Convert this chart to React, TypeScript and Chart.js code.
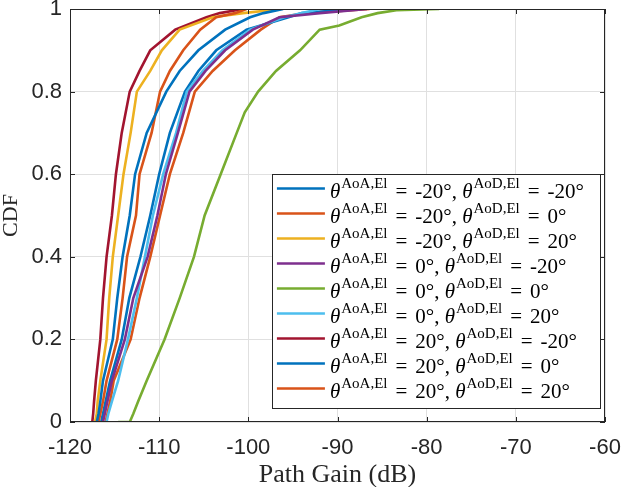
import React, { useEffect, useRef } from "react";
import Chart from "chart.js/auto";

// CDF levels shared by most curves, path gain in dB
const CDF_LEVELS = [0, 0.02, 0.05, 0.1, 0.2, 0.3, 0.4, 0.5, 0.6, 0.7, 0.8, 0.85, 0.9, 0.95, 0.98, 0.99, 1];

const gainM20M20 = [-117.0, -116.8, -116.6, -116.3, -115.2, -114.7, -114.1, -113.3, -112.7, -111.4, -109.2, -107.7, -105.6, -102.6, -99.8, -98.3, -96.1];
const gainM20Z0 = [-116.8, -116.6, -116.3, -115.9, -114.7, -114.1, -113.6, -112.6, -112.2, -110.85, -109.9, -108.8, -107.3, -105.4, -103.6, -101.5, -100.2];
const gainM20P20 = [-117.2, -117.0, -116.9, -116.6, -115.9, -115.6, -115.2, -114.6, -114.0, -113.2, -112.5, -111.0, -109.7, -107.7, -104.0, -100.6, -96.3];
const gainZ0M20 = [-116.3, -116.1, -115.8, -115.3, -113.85, -112.9, -111.3, -110.2, -109.25, -107.9, -106.6, -104.8, -102.6, -99.5, -96.5, -92.0, -86.7];
const gainZ0P20 = [-115.9, -115.7, -115.3, -114.6, -113.5, -112.5, -111.6, -110.7, -109.55, -108.1, -106.9, -105.1, -102.9, -99.8, -96.0, -94.0, -92.0];
const gainP20M20 = [-117.5, -117.4, -117.3, -117.1, -116.6, -116.3, -115.9, -115.3, -114.85, -114.2, -113.3, -112.2, -111.0, -108.2, -104.7, -103.2, -100.6];
const gainP20Z0 = [-116.5, -116.3, -116.0, -115.5, -114.2, -113.35, -112.1, -111.0, -110.0, -108.8, -107.1, -105.6, -103.6, -100.2, -95.5, -94.0, -88.0];
const gainP20P20 = [-116.0, -115.8, -115.5, -115.1, -113.2, -112.2, -111.0, -109.9, -108.8, -107.3, -106.0, -104.0, -101.5, -98.6, -96.5, -93.5, -86.4];

// the 0/0 curve has its own levels (flat start at zero)
const GREEN_LEVELS = [0, 0, 0.02, 0.05, 0.1, 0.2, 0.3, 0.4, 0.5, 0.6, 0.7, 0.75, 0.8, 0.85, 0.9, 0.95, 0.96, 0.98, 0.99, 0.997, 1];
const gainZ0Z0 = [-114.6, -113.3, -112.9, -112.35, -111.4, -109.4, -107.7, -106.1, -104.9, -103.1, -101.3, -100.4, -98.9, -96.9, -94.2, -92.0, -89.8, -87.3, -85.5, -83.4, -78.6];

const AOA = ["-20", "-20", "-20", "0", "0", "0", "20", "20", "20"];
const AOD = ["-20", "0", "20", "-20", "0", "20", "-20", "0", "20"];
const COLORS = ["#0072BD", "#D95319", "#EDB120", "#7E2F8E", "#77AC30", "#4DBEEE", "#A2142F", "#0072BD", "#D95319"];

const X_TICKS = [-120, -110, -100, -90, -80, -70, -60];
const Y_TICKS = [0, 0.2, 0.4, 0.6, 0.8, 1];

const AXIS_COLOR = "#262626";
const GRID_COLOR = "#e0e0e0";
const SERIF = "'Liberation Serif', 'DejaVu Serif', serif";
const SANS = "'Liberation Sans', Arial, sans-serif";

const series = [
  { x: gainM20M20, p: CDF_LEVELS },
  { x: gainM20Z0, p: CDF_LEVELS },
  { x: gainM20P20, p: CDF_LEVELS },
  { x: gainZ0M20, p: CDF_LEVELS },
  { x: gainZ0Z0, p: GREEN_LEVELS },
  { x: gainZ0P20, p: CDF_LEVELS },
  { x: gainP20M20, p: CDF_LEVELS },
  { x: gainP20Z0, p: CDF_LEVELS },
  { x: gainP20P20, p: CDF_LEVELS },
];

const framePlugin = {
  id: "matlabFrame",
  afterDraw(chart: any) {
    const { ctx, chartArea: a, scales } = chart;
    ctx.save();
    ctx.strokeStyle = AXIS_COLOR;
    ctx.lineWidth = 1;
    ctx.strokeRect(a.left + 0.5, a.top + 0.5, a.width - 1, a.height - 1);
    const tl = 5;
    ctx.beginPath();
    X_TICKS.forEach((v) => {
      const px = Math.round(scales.x.getPixelForValue(v)) + 0.5;
      ctx.moveTo(px, a.bottom);
      ctx.lineTo(px, a.bottom - tl);
      ctx.moveTo(px, a.top);
      ctx.lineTo(px, a.top + tl);
    });
    Y_TICKS.forEach((v) => {
      const py = Math.round(scales.y.getPixelForValue(v)) + 0.5;
      ctx.moveTo(a.left, py);
      ctx.lineTo(a.left + tl, py);
      ctx.moveTo(a.right, py);
      ctx.lineTo(a.right - tl, py);
    });
    ctx.stroke();
    ctx.restore();
  },
};

const legendPlugin = {
  id: "thetaLegend",
  afterDraw(chart: any) {
    const { ctx, chartArea: a } = chart;
    const mainFont = `21px ${SERIF}`;
    const thetaFont = `italic 21px ${SERIF}`;
    const supFont = `15px ${SERIF}`;
    const rowH = 25;
    const lineLen = 48;
    const eqGap = 8;

    const rows = AOA.map((aoa, i) => [
      { t: "θ", f: thetaFont, dy: 0, g: 1 },
      { t: "AoA,El", f: supFont, dy: -10, g: eqGap },
      { t: "=", f: mainFont, dy: 0, g: eqGap },
      { t: `${aoa}°, `, f: mainFont, dy: 0, g: 0 },
      { t: "θ", f: thetaFont, dy: 0, g: 1 },
      { t: "AoD,El", f: supFont, dy: -10, g: eqGap },
      { t: "=", f: mainFont, dy: 0, g: eqGap },
      { t: `${AOD[i]}°`, f: mainFont, dy: 0, g: 0 },
    ]);

    ctx.save();
    const widths = rows.map((segs) =>
      segs.reduce((w, s) => {
        ctx.font = s.f;
        return w + ctx.measureText(s.t).width + s.g;
      }, 0)
    );
    const maxW = Math.max(...widths);
    const boxW = 5 + lineLen + 5 + maxW + 16;
    const boxH = rows.length * rowH + 9;
    const right = a.right - 5;
    const bottom = a.bottom - 14;
    const left = right - boxW;
    const top = bottom - boxH;

    ctx.fillStyle = "#ffffff";
    ctx.fillRect(left, top, boxW, boxH);
    ctx.strokeStyle = AXIS_COLOR;
    ctx.lineWidth = 1;
    ctx.strokeRect(Math.round(left) + 0.5, Math.round(top) + 0.5, Math.round(boxW), Math.round(boxH));

    rows.forEach((segs, i) => {
      const cy = top + 14.5 + i * rowH;
      ctx.strokeStyle = COLORS[i];
      ctx.lineWidth = 2.6;
      ctx.beginPath();
      ctx.moveTo(left + 5, cy);
      ctx.lineTo(left + 5 + lineLen, cy);
      ctx.stroke();

      let x = left + 5 + lineLen + 5;
      const base = cy + 9.5;
      ctx.fillStyle = "#000000";
      ctx.textBaseline = "alphabetic";
      ctx.textAlign = "left";
      segs.forEach((s) => {
        ctx.font = s.f;
        ctx.fillText(s.t, x, base + s.dy);
        x += ctx.measureText(s.t).width + s.g;
      });
    });
    ctx.restore();
  },
};

export default function App() {
  const canvasRef = useRef<HTMLCanvasElement | null>(null);

  useEffect(() => {
    document.body.style.margin = "0";
    const el = canvasRef.current;
    if (!el) return;

    const chart = new Chart(el, {
      type: "line",
      data: {
        datasets: series.map((s, i) => ({
          label: `AoA ${AOA[i]}, AoD ${AOD[i]}`,
          data: s.x.map((g, k) => ({ x: g, y: s.p[k] })),
          borderColor: COLORS[i],
          backgroundColor: COLORS[i],
          borderWidth: 2.6,
          pointRadius: 0,
          tension: 0,
          fill: false,
        })),
      },
      options: {
        animation: false,
        responsive: true,
        maintainAspectRatio: false,
        layout: { padding: { top: 9, right: 18, left: 0, bottom: 0 } },
        plugins: { legend: { display: false }, tooltip: { enabled: false } },
        scales: {
          x: {
            type: "linear",
            min: -120,
            max: -60,
            afterFit: (scale: any) => {
              scale.height = 65;
              scale.paddingLeft = 0;
              scale.paddingRight = 0;
            },
            afterBuildTicks: (scale: any) => {
              scale.ticks = X_TICKS.map((v) => ({ value: v }));
            },
            border: { display: false },
            grid: { color: GRID_COLOR, drawTicks: false },
            ticks: {
              color: AXIS_COLOR,
              font: { family: SANS, size: 22 },
              padding: 13,
              maxRotation: 0,
            },
            title: {
              display: true,
              text: "Path Gain (dB)",
              color: AXIS_COLOR,
              font: { family: SERIF, size: 26, lineHeight: 0.9 },
              padding: { top: 0, bottom: 0 },
            },
          },
          y: {
            type: "linear",
            min: 0,
            max: 1,
            afterFit: (scale: any) => {
              scale.width = 70;
              scale.paddingTop = 0;
              scale.paddingBottom = 0;
            },
            afterBuildTicks: (scale: any) => {
              scale.ticks = Y_TICKS.map((v) => ({ value: v }));
            },
            border: { display: false },
            grid: { color: GRID_COLOR, drawTicks: false },
            ticks: {
              color: AXIS_COLOR,
              font: { family: SANS, size: 22 },
              padding: 8,
              callback: (v: any) => String(Math.round(Number(v) * 10) / 10),
            },
            title: {
              display: true,
              text: "CDF",
              color: AXIS_COLOR,
              font: { family: SERIF, size: 22, lineHeight: 1 },
              padding: { top: 0, bottom: 0 },
            },
          },
        },
      },
      plugins: [framePlugin, legendPlugin],
    });

    return () => chart.destroy();
  }, []);

  return (
    <div style={{ width: 623, height: 487, position: "relative" }}>
      <canvas ref={canvasRef} />
    </div>
  );
}
